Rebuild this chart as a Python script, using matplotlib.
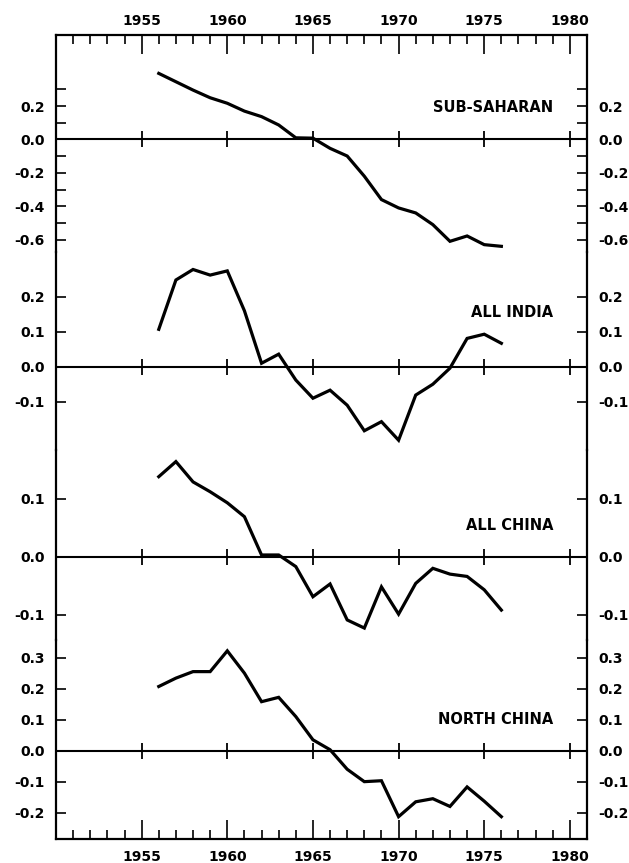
import numpy as np
import matplotlib.pyplot as plt
from matplotlib.ticker import FixedLocator, MultipleLocator

plt.rcParams['font.family'] = 'DejaVu Sans'
plt.rcParams['font.weight'] = 'bold'
plt.rcParams['axes.unicode_minus'] = False

# data, one value per year 1956-1976
years = np.arange(1956, 1977)
sub_saharan = [0.396, 0.346, 0.296, 0.25, 0.217, 0.17, 0.137, 0.087, 0.01, 0.008,
               -0.053, -0.099, -0.22, -0.36, -0.41, -0.44, -0.51, -0.61, -0.578, -0.63, -0.64]
all_india = [0.107, 0.248, 0.278, 0.262, 0.274, 0.16, 0.01, 0.036, -0.038, -0.09,
             -0.067, -0.11, -0.183, -0.157, -0.21, -0.081, -0.05, -0.004, 0.081, 0.093, 0.067]
all_china = [0.138, 0.164, 0.129, 0.112, 0.093, 0.069, 0.003, 0.003, -0.017, -0.069,
             -0.047, -0.109, -0.123, -0.052, -0.099, -0.046, -0.02, -0.03, -0.034, -0.057, -0.092]
north_china = [0.207, 0.234, 0.255, 0.255, 0.322, 0.25, 0.158, 0.172, 0.11, 0.035,
               0.003, -0.06, -0.1, -0.097, -0.213, -0.165, -0.155, -0.18, -0.117, -0.163, -0.213]

series = [sub_saharan, all_india, all_china, north_china]
names = ['SUB-SAHARAN', 'ALL INDIA', 'ALL CHINA', 'NORTH CHINA']
major_years = [1955, 1960, 1965, 1970, 1975, 1980]
yticks = [[-0.6, -0.4, -0.2, 0.0, 0.2],
          [-0.1, 0.0, 0.1, 0.2],
          [-0.1, 0.0, 0.1],
          [-0.2, -0.1, 0.0, 0.1, 0.2, 0.3]]
yminor = [[-0.5, -0.3, -0.1, 0.1, 0.3], [], [], []]

# layout in pixels (figure 629 x 863)
W, H = 629, 863
left_px, right_px = 56, 587
bounds = [35, 252, 450, 640, 839]
ylims = [(-0.674, 0.626), (-0.238, 0.328), (-0.1436, 0.184), (-0.285, 0.357)]
label_y = [0.19, 0.154, 0.053, 0.099]

fig = plt.figure(figsize=(W / 100, H / 100), dpi=100)
axes = []
for i in range(4):
    top, bot = bounds[i], bounds[i + 1]
    ax = fig.add_axes([left_px / W, 1 - bot / H, (right_px - left_px) / W, (bot - top) / H])
    axes.append(ax)
    ax.set_xlim(1950, 1981)
    ax.set_ylim(*ylims[i])
    ax.patch.set_alpha(0)

    ax.plot(years, series[i], color='black', lw=2.3, solid_joinstyle='miter')
    ax.axhline(0, color='black', lw=1.5)
    ax.plot(major_years, np.zeros(len(major_years)), ls='none', marker='|',
            ms=12, mew=1.3, color='black')
    ax.text(0.936, label_y[i], names[i], transform=ax.get_yaxis_transform(),
            ha='right', va='center', fontsize=10.5, fontweight='bold')

    for s in ['left', 'right', 'top', 'bottom']:
        ax.spines[s].set_linewidth(1.6)
        ax.spines[s].set_capstyle('projecting')
    ax.spines['top'].set_visible(i == 0)
    ax.spines['bottom'].set_visible(i == 3)

    ax.yaxis.set_major_locator(FixedLocator(yticks[i]))
    ax.yaxis.set_minor_locator(FixedLocator(yminor[i]))
    ax.set_yticklabels(['%.1f' % v for v in yticks[i]])
    ax.tick_params(axis='y', which='both', direction='in', left=True, right=True,
                   labelleft=True, labelright=True, length=7, width=1.2, pad=8,
                   labelsize=10)

    ax.xaxis.set_major_locator(FixedLocator(major_years))
    ax.xaxis.set_minor_locator(MultipleLocator(1))
    ax.tick_params(axis='x', which='both', direction='in', top=(i == 0), bottom=(i == 3),
                   labeltop=(i == 0), labelbottom=(i == 3), labelsize=10)
    ax.tick_params(axis='x', which='major', length=14, width=1.2)
    ax.tick_params(axis='x', which='minor', length=6.5, width=1.2)
    if i == 0:
        ax.tick_params(axis='x', which='major', pad=5)
    if i == 3:
        ax.tick_params(axis='x', which='major', pad=8)

fig.savefig('out.png', dpi=100)
